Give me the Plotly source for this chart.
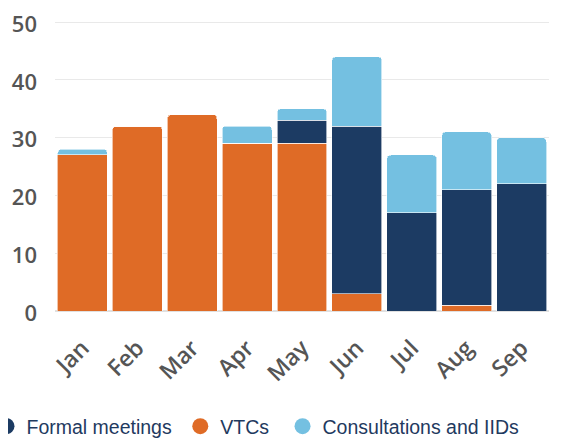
import plotly.graph_objects as go

months = ["Jan", "Feb", "Mar", "Apr", "May", "Jun", "Jul", "Aug", "Sep"]
vtcs = [27, 32, 34, 29, 29, 3, 0, 1, 0]
formal_meetings = [0, 0, 0, 0, 4, 29, 17, 20, 22]
consultations = [1, 0, 0, 3, 2, 12, 10, 10, 8]
y_ticks = [0, 10, 20, 30, 40, 50]

ORANGE = "#DF6B26"
NAVY = "#1C3B63"
LIGHT = "#74C0E1"

fig = go.Figure()
fig.add_trace(go.Bar(x=months, y=vtcs, name="VTCs", marker_color=ORANGE,
                     marker_line=dict(color="#ffffff", width=0.6), showlegend=False))
fig.add_trace(go.Bar(x=months, y=formal_meetings, name="Formal meetings", marker_color=NAVY,
                     marker_line=dict(color="#ffffff", width=0.6), showlegend=False))
fig.add_trace(go.Bar(x=months, y=consultations, name="Consultations and IIDs", marker_color=LIGHT,
                     marker_line=dict(color="#ffffff", width=0.6), showlegend=False))

# circle legend entries, one legend each so they can be placed individually
legend_items = [("Formal meetings", NAVY, "legend", -0.1387),
                ("VTCs", ORANGE, "legend2", 0.2536),
                ("Consultations and IIDs", LIGHT, "legend3", 0.4606)]
legend_font = dict(family="Liberation Sans, Arial, sans-serif", size=19.5, color="#1F3A5F")
for name, col, lg, _ in legend_items:
    fig.add_trace(go.Scatter(x=[None], y=[None], mode="markers", name=name, legend=lg,
                             marker=dict(symbol="circle", size=18, color=col), showlegend=True))

layout_legends = {}
for name, col, lg, xpos in legend_items:
    layout_legends[lg] = dict(orientation="h", x=xpos, xanchor="left", y=-0.33, yanchor="top",
                              font=legend_font, bgcolor="rgba(0,0,0,0)")

fig.update_layout(
    barmode="stack",
    bargap=0.09,
    barcornerradius=4,
    width=577, height=441,
    margin=dict(l=47, r=36, t=12, b=138, autoexpand=False),
    paper_bgcolor="white", plot_bgcolor="white",
    showlegend=True,
    font=dict(family="Open Sans, sans-serif"),
    **layout_legends,
)
fig.update_yaxes(range=[0, 50.35], tickmode="array", tickvals=y_ticks,
                 showgrid=True, gridcolor="#E9E9E9", gridwidth=1,
                 zeroline=True, zerolinecolor="#E0E0E0", showline=False, automargin=False,
                 ticklabeloverflow="allow", ticklabelshift=2,
                 tickfont=dict(family="Open Sans, sans-serif", size=22, color="#555555", weight=600),
                 ticks="", ticklabelstandoff=17)
fig.update_xaxes(tickangle=-45, showgrid=False, showline=False, automargin=False,
                 ticklabeloverflow="allow",
                 tickfont=dict(family="Open Sans, sans-serif", size=23, color="#555555", weight=600),
                 ticklabelstandoff=18)

fig.write_html("out.html")
